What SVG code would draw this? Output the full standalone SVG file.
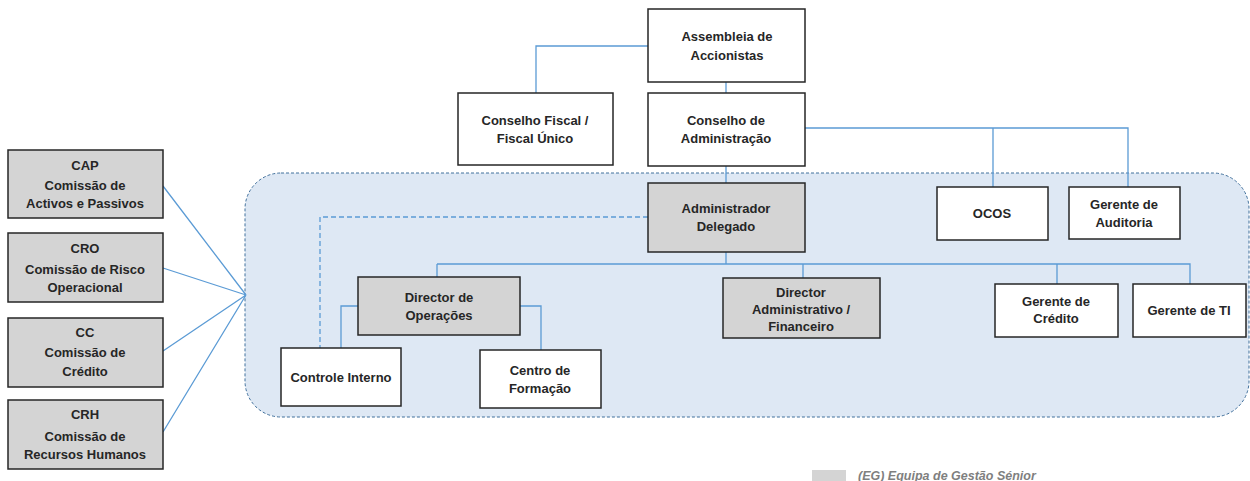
<svg xmlns="http://www.w3.org/2000/svg" width="1250" height="481" viewBox="0 0 1250 481">
<style>
.box{stroke:#262626;stroke-width:1.5;fill:#fff}
.g{fill:#d4d4d4}
.t{font-family:"Liberation Sans",Arial,sans-serif;font-weight:bold;font-size:13px;fill:#262626;text-anchor:middle}
.c{stroke:#5b9bd5;stroke-width:1.3;fill:none}
.d{stroke-dasharray:5 3}
</style>
<rect x="0" y="0" width="1250" height="481" fill="#fff"/>
<rect id="container" x="245" y="173" width="1004" height="244" rx="36" ry="36" fill="#dee8f4" stroke="#41709c" stroke-width="1" stroke-dasharray="3 2"/>
<g id="connectors">
<path class="c" d="M648 46H536V93"/>
<path class="c" d="M726 82V93"/>
<path class="c" d="M726 166V183"/>
<path class="c" d="M805 128H1128V187M993 128V187"/>
<path class="c" d="M726 252V264M437 264H1190V284M437 264V277M803 264V278M1057 264V284"/>
<path class="c" d="M358 306H341V348M520 306H541V350"/>
<path class="c d" d="M648 217H320V348"/>
<path class="c" d="M163 186L246 295M163 268L246 295M163 351L246 295M163 432L246 295"/>
</g>
<g id="assembleia"><rect class="box" x="648" y="9" width="157" height="73"/><text class="t" x="727" y="41">Assembleia de</text><text class="t" x="727" y="60">Accionistas</text></g>
<g id="conselho-fiscal"><rect class="box" x="458" y="93" width="155" height="72"/><text class="t" x="535" y="125">Conselho Fiscal /</text><text class="t" x="535" y="143">Fiscal Único</text></g>
<g id="conselho-admin"><rect class="box" x="648" y="93" width="157" height="73"/><text class="t" x="726" y="125">Conselho de</text><text class="t" x="726" y="143">Administração</text></g>
<g id="admin-delegado"><rect class="box g" x="648" y="183" width="157" height="69"/><text class="t" x="726" y="213">Administrador</text><text class="t" x="726" y="231">Delegado</text></g>
<g id="ocos"><rect class="box" x="937" y="187" width="111" height="53"/><text class="t" x="992" y="218">OCOS</text></g>
<g id="gerente-auditoria"><rect class="box" x="1069" y="187" width="111" height="52"/><text class="t" x="1124" y="209">Gerente de</text><text class="t" x="1124" y="227">Auditoria</text></g>
<g id="director-operacoes"><rect class="box g" x="358" y="277" width="162" height="58"/><text class="t" x="439" y="302">Director de</text><text class="t" x="439" y="320">Operações</text></g>
<g id="controle-interno"><rect class="box" x="281" y="348" width="120" height="58"/><text class="t" x="341" y="382">Controle Interno</text></g>
<g id="centro-formacao"><rect class="box" x="480" y="350" width="121" height="58"/><text class="t" x="540" y="375">Centro de</text><text class="t" x="540" y="393">Formação</text></g>
<g id="director-admin"><rect class="box g" x="723" y="278" width="157" height="60"/><text class="t" x="801" y="297">Director</text><text class="t" x="801" y="314">Administrativo /</text><text class="t" x="801" y="331">Financeiro</text></g>
<g id="gerente-credito"><rect class="box" x="995" y="284" width="123" height="53"/><text class="t" x="1056" y="306">Gerente de</text><text class="t" x="1056" y="323">Crédito</text></g>
<g id="gerente-ti"><rect class="box" x="1133" y="284" width="113" height="53"/><text class="t" x="1189" y="315">Gerente de TI</text></g>
<g id="cap"><rect class="box g" x="8" y="150" width="155" height="68"/><text class="t" x="85" y="170">CAP</text><text class="t" x="85" y="190">Comissão de</text><text class="t" x="85" y="208">Activos e Passivos</text></g>
<g id="cro"><rect class="box g" x="8" y="233" width="155" height="69"/><text class="t" x="85" y="253">CRO</text><text class="t" x="85" y="274">Comissão de Risco</text><text class="t" x="85" y="292">Operacional</text></g>
<g id="cc"><rect class="box g" x="8" y="318" width="155" height="69"/><text class="t" x="85" y="337">CC</text><text class="t" x="85" y="357">Comissão de</text><text class="t" x="85" y="376">Crédito</text></g>
<g id="crh"><rect class="box g" x="8" y="400" width="155" height="69"/><text class="t" x="85" y="419">CRH</text><text class="t" x="85" y="441">Comissão de</text><text class="t" x="85" y="459">Recursos Humanos</text></g>
<g id="legend"><rect x="812" y="470" width="34" height="11" fill="#d4d4d4"/><text x="858" y="480" font-family="Liberation Sans,Arial,sans-serif" font-style="italic" font-weight="bold" font-size="12.5" fill="#7f7f7f">(EG) Equipa de Gestão Sénior</text></g>
</svg>
